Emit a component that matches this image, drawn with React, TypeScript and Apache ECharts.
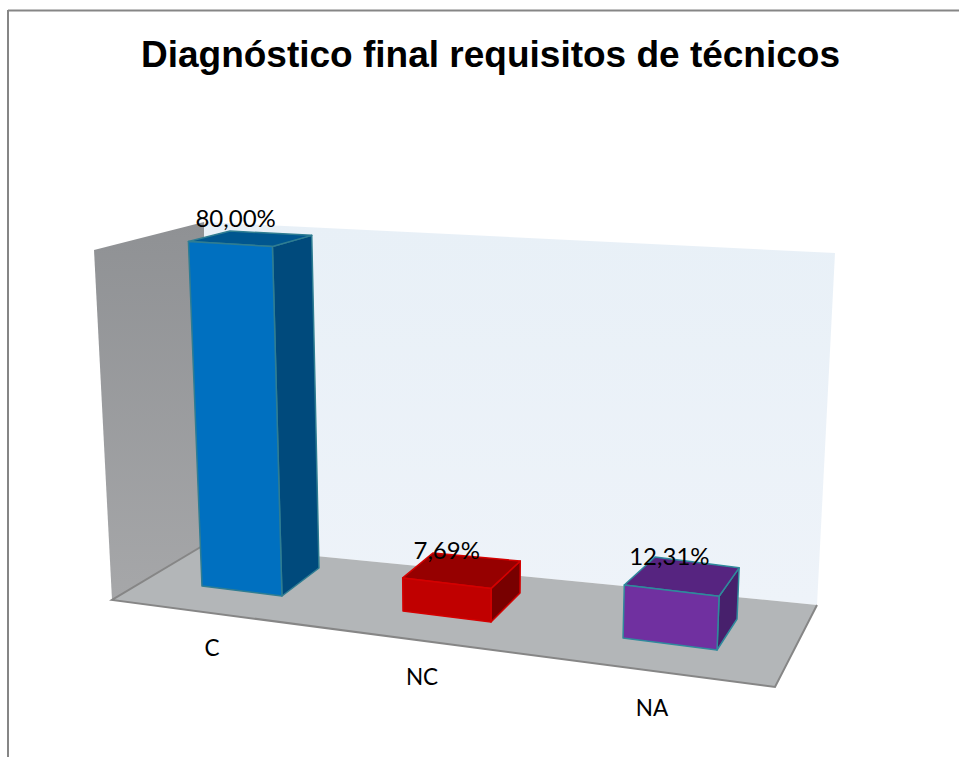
import React, { useEffect, useRef } from "react";
import * as echarts from "echarts";

const TITLE = "Diagnóstico final requisitos de técnicos";
const CATEGORIES = ["C", "NC", "NA"];
const VALUES = [80.0, 7.69, 12.31];
const VALUE_LABELS = ["80,00%", "7,69%", "12,31%"];

// Painted colours of each box: front, top, side, edge
const FRONT_COLORS = ["#0070c0", "#c00000", "#7030a0"];
const TOP_COLORS = ["#00568f", "#960000", "#562480"];
const SIDE_COLORS = ["#004a7c", "#780000", "#47206c"];
const EDGE_COLORS = ["#2f7d92", "#d40000", "#2f8a9c"];

// Offsets of the box foot from the category position on the hidden axes
// [dx, dy] for front-left, front-right, back-right, back-left
const FOOTPRINTS: number[][][] = [
  [[-14.7, -14], [65.3, -4], [102.3, -32], [24.3, -41.4]],
  [[-47, 11], [41, 22], [70, -7], [-17, -15.5]],
  [[-60.3, 38], [33.7, 50], [53.7, 19], [-29.7, 7.4]],
];
// Depth foreshortening of the height at each of the four corners
const CORNER_SCALE = [1.025, 1.04, 0.99, 0.975];
const CATEGORY_LABEL_OFFSETS: number[][] = [[10, 61], [19, 65], [29, 69]];

const LEFT_WALL = [[94, 250], [204, 222], [204, 545], [112, 600]];
const BACK_WALL = [[204, 222], [835, 253], [817, 605], [204, 545]];
const FLOOR = [[112, 600], [775, 687], [817, 605], [204, 545]];

export default function App() {
  const ref = useRef<HTMLDivElement>(null);
  useEffect(() => {
    const chart = echarts.init(ref.current!, null, { renderer: "svg" });

    const project = (x: number, y: number, height: number, corner: number) => {
      const h = height * CORNER_SCALE[corner];
      return [x + (x - 464) * 0.00015 * h, y - h];
    };

    const renderItem = (params: any, api: any) => {
      const i = api.value(0);
      const value = api.value(1);
      const origin = api.coord([i, 0]);
      const height = api.size([0, value])[1];
      const foot = FOOTPRINTS[i].map((d) => [origin[0] + d[0], origin[1] + d[1]]);
      const top = foot.map((p, c) => project(p[0], p[1], height, c));
      const edge = { stroke: EDGE_COLORS[i], lineWidth: 1.5, lineJoin: "round" };
      const cx = top.reduce((s, p) => s + p[0], 0) / 4;
      const cy = top.reduce((s, p) => s + p[1], 0) / 4;
      return {
        type: "group",
        children: [
          {
            type: "polygon",
            shape: { points: [foot[1], foot[2], top[2], top[1]] },
            style: { fill: SIDE_COLORS[i], ...edge },
          },
          {
            type: "polygon",
            shape: { points: [top[0], top[1], top[2], top[3]] },
            style: { fill: TOP_COLORS[i], ...edge },
          },
          {
            type: "polygon",
            shape: { points: [foot[0], foot[1], top[1], top[0]] },
            style: { fill: FRONT_COLORS[i], ...edge },
          },
          {
            type: "text",
            style: {
              text: VALUE_LABELS[i],
              x: cx - 15,
              y: cy - 21,
              align: "center",
              verticalAlign: "middle",
              fill: "#000000",
              font: '24px Lato, "Open Sans", sans-serif',
            },
          },
          {
            type: "text",
            style: {
              text: CATEGORIES[i],
              x: foot[0][0] + CATEGORY_LABEL_OFFSETS[i][0],
              y: foot[0][1] + CATEGORY_LABEL_OFFSETS[i][1],
              align: "center",
              verticalAlign: "middle",
              fill: "#000000",
              font: '22.5px Lato, "Open Sans", sans-serif',
            },
          },
        ],
      };
    };

    chart.setOption({
      animation: false,
      backgroundColor: "#ffffff",
      title: {
        text: TITLE,
        left: 485.5,
        top: 31,
        textAlign: "center",
        textStyle: {
          fontFamily: '"Liberation Sans", Arial, sans-serif',
          fontWeight: "bold",
          fontSize: 37,
          color: "#000000",
        },
      },
      grid: { left: 100, top: 180, width: 700, height: 420 },
      xAxis: { type: "category", data: CATEGORIES, show: false },
      yAxis: { type: "value", min: 0, max: 100, show: false },
      graphic: {
        elements: [
          {
            type: "polygon",
            z: 0,
            shape: { points: LEFT_WALL },
            style: {
              fill: new echarts.graphic.LinearGradient(0, 0, 0, 1, [
                { offset: 0, color: "#8f9194" },
                { offset: 1, color: "#a6a7a9" },
              ]),
            },
          },
          {
            type: "polygon",
            z: 0,
            shape: { points: BACK_WALL },
            style: {
              fill: new echarts.graphic.LinearGradient(0, 0, 0, 1, [
                { offset: 0, color: "#e8f0f7" },
                { offset: 1, color: "#eef3f9" },
              ]),
            },
          },
          { type: "polygon", z: 0, shape: { points: FLOOR }, style: { fill: "#b3b6b8" } },
          {
            type: "polyline",
            z: 0,
            shape: { points: [FLOOR[3], FLOOR[0], FLOOR[1], FLOOR[2]] },
            style: { fill: "none", stroke: "#868686", lineWidth: 2 },
          },
          {
            type: "line",
            z: 0,
            shape: { x1: 8, y1: 10.5, x2: 959, y2: 10.5 },
            style: { stroke: "#868686", lineWidth: 2 },
          },
          {
            type: "line",
            z: 0,
            shape: { x1: 8, y1: 10, x2: 8, y2: 757 },
            style: { stroke: "#868686", lineWidth: 2 },
          },
        ],
      },
      series: [
        {
          type: "custom",
          coordinateSystem: "cartesian2d",
          data: VALUES.map((v, i) => [i, v]),
          encode: { x: 0, y: 1 },
          renderItem,
          z: 5,
        },
      ],
    });
    return () => chart.dispose();
  }, []);
  return <div ref={ref} style={{ position: "fixed", left: 0, top: 0, width: 959, height: 757 }} />;
}
